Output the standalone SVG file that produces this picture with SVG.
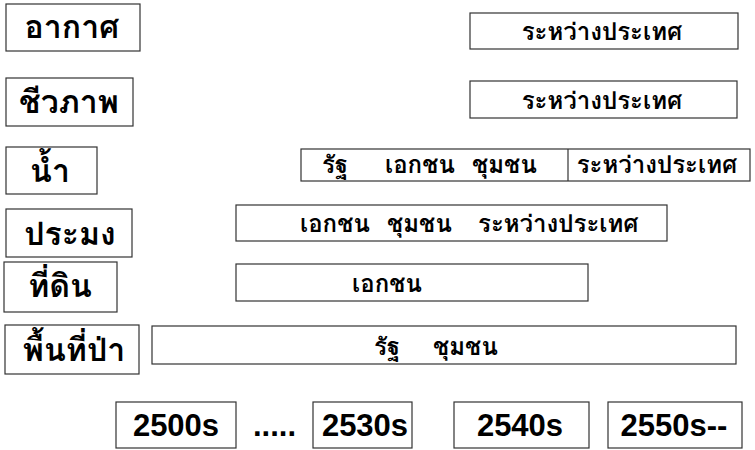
<svg xmlns="http://www.w3.org/2000/svg" width="755" height="450" viewBox="0 0 755 450">
<style>
rect{fill:#fff;stroke:#333;stroke-width:1.2}
line{stroke:#333;stroke-width:1.2}
.lab{font-family:Tahoma,Loma,Garuda,"Noto Sans Thai Looped","Noto Sans Thai","Noto Sans","DejaVu Sans",sans-serif;font-weight:bold;font-size:32px;fill:#000}
.th{font-family:Tahoma,Loma,Garuda,"Noto Sans Thai Looped","Noto Sans Thai","Noto Sans","DejaVu Sans",sans-serif;font-weight:bold;font-size:24px;fill:#000}
.yr{font-family:"Liberation Sans",Arial,sans-serif;font-weight:bold;font-size:31px;fill:#000}
</style>
<rect width="755" height="450" style="fill:#fff;stroke:none"/>
<g id="label-air"><rect x="6" y="4" width="134" height="47"/><text class="lab" x="72" y="38" text-anchor="middle">อากาศ</text></g>
<g id="label-bio"><rect x="6" y="78" width="127" height="48"/><text class="lab" x="69" y="113" text-anchor="middle">ชีวภาพ</text></g>
<g id="label-water"><rect x="6" y="147" width="91" height="47"/><text class="lab" x="50" y="182" text-anchor="middle">น้ำ</text></g>
<g id="label-fish"><rect x="6" y="209" width="126" height="48"/><text class="lab" x="70" y="245" text-anchor="middle">ประมง</text></g>
<g id="label-land"><rect x="4" y="262" width="113" height="50"/><text class="lab" x="60" y="297" text-anchor="middle">ที่ดิน</text></g>
<g id="label-forest"><rect x="5" y="325" width="134" height="49"/><text class="lab" x="74" y="361" text-anchor="middle">พื้นที่ป่า</text></g>

<g id="bar-air"><rect x="470" y="13" width="268" height="36"/><text class="th" x="602" y="40" text-anchor="middle">ระหว่างประเทศ</text></g>
<g id="bar-bio"><rect x="470" y="81" width="267" height="37"/><text class="th" x="602" y="109" text-anchor="middle">ระหว่างประเทศ</text></g>
<g id="bar-water"><rect x="301" y="149" width="449" height="32"/><line x1="568" y1="149" x2="568" y2="181"/>
<text class="th" x="322" y="173">รัฐ</text><text class="th" x="385" y="173">เอกชน</text><text class="th" x="472" y="173">ชุมชน</text><text class="th" x="657" y="173" text-anchor="middle">ระหว่างประเทศ</text></g>
<g id="bar-fish"><rect x="236" y="205" width="431" height="36"/>
<text class="th" x="300" y="232">เอกชน</text><text class="th" x="387" y="232">ชุมชน</text><text class="th" x="478" y="232">ระหว่างประเทศ</text></g>
<g id="bar-land"><rect x="236" y="264" width="352" height="37"/><text class="th" x="387" y="292" text-anchor="middle">เอกชน</text></g>
<g id="bar-forest"><rect x="152" y="326" width="584" height="38"/><text class="th" x="374" y="355">รัฐ</text><text class="th" x="433" y="355">ชุมชน</text></g>

<g id="year-2500"><rect x="116" y="402" width="120" height="46"/><text class="yr" x="176" y="436" text-anchor="middle">2500s</text></g>
<text class="yr" x="253" y="436">.....</text>
<g id="year-2530"><rect x="313" y="402" width="99" height="46"/><text class="yr" x="365" y="436" text-anchor="middle">2530s</text></g>
<g id="year-2540"><rect x="454" y="402" width="135" height="46"/><text class="yr" x="520" y="436" text-anchor="middle">2540s</text></g>
<g id="year-2550"><rect x="608" y="402" width="134" height="46"/><text class="yr" x="674" y="436" text-anchor="middle">2550s--</text></g>
</svg>
